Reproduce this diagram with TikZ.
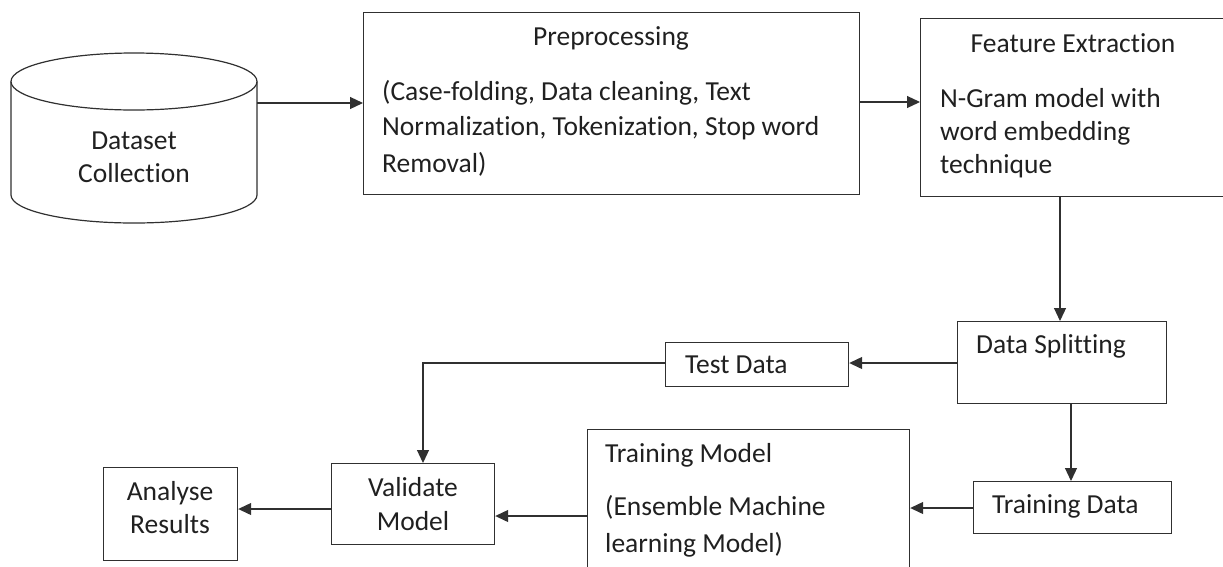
\documentclass[tikz,border=0pt]{standalone}
\usepackage{fontspec}
\setmainfont{Carlito}[Ligatures=NoCommon]
\usetikzlibrary{arrows.meta}
\definecolor{ink}{HTML}{303030}
\definecolor{txt}{HTML}{202020}
\tikzset{
  box/.style={draw=ink, line width=1.2pt, rectangle, inner sep=0pt, anchor=north west},
  arr/.style={draw=ink, line width=1.2pt, -{Triangle[length=13pt,width=12pt]}},
  lbl/.style={text=txt, inner sep=0pt, font=\fontsize{27.5}{33}\selectfont},
}
\begin{document}
\begin{tikzpicture}[x=1pt,y=-1pt]
\useasboundingbox (0,0) rectangle (1223,566);

% database cylinder
\node[inner sep=0pt, minimum width=246pt, minimum height=170pt] (db) at (134,138) {};
\draw[ink, line width=1.2pt] (134,81.5) ellipse [x radius=123pt, y radius=28.5pt];
\draw[ink, line width=1.2pt] (11,81.5) -- (11,195)
  arc[start angle=180, end angle=360, x radius=123pt, y radius=28pt] -- (257,81.5);
\node[lbl, anchor=base] at (134,149) {Dataset};
\node[lbl, anchor=base] at (134,182) {Collection};

% process boxes
\node[box, minimum width=496pt, minimum height=182pt] (pre) at (363,12) {};
\node[box, minimum width=330pt, minimum height=178pt] (fe) at (920,18) {};
\node[box, minimum width=209pt, minimum height=82pt] (ds) at (957,321) {};
\node[box, minimum width=183pt, minimum height=44pt] (test) at (665,342) {};
\node[box, minimum width=198pt, minimum height=52pt] (trd) at (973,481) {};
\node[box, minimum width=322pt, minimum height=170pt] (tm) at (587,429) {};
\node[box, minimum width=163pt, minimum height=81pt] (vm) at (331,463) {};
\node[box, minimum width=134pt, minimum height=93pt] (ar) at (103,467) {};

% box texts
\node[lbl, anchor=base] at (611,45) {Preprocessing};
\node[lbl, anchor=base west] at (382,100) {(Case-folding, Data cleaning, Text};
\node[lbl, anchor=base west] at (382,135) {Normalization, Tokenization, Stop word};
\node[lbl, anchor=base west] at (382,172) {Removal)};

\node[lbl, anchor=base] at (1073,52) {Feature Extraction};
\node[lbl, anchor=base west] at (940,107) {N-Gram model with};
\node[lbl, anchor=base west] at (940,140) {word embedding};
\node[lbl, anchor=base west] at (940,173) {technique};

\node[lbl, anchor=base west] at (976,353) {Data Splitting};
\node[lbl, anchor=base west] at (685,373) {Test Data};
\node[lbl, anchor=base west] at (992,513) {Training Data};

\node[lbl, anchor=base west] at (605,462) {Training Model};
\node[lbl, anchor=base west] at (605,515) {(Ensemble Machine};
\node[lbl, anchor=base west] at (605,552) {learning Model)};

\node[lbl, anchor=base] at (413,496) {Validate};
\node[lbl, anchor=base] at (413,530) {Model};
\node[lbl, anchor=base] at (170,500) {Analyse};
\node[lbl, anchor=base] at (170,533) {Results};

% routing guides
\coordinate (yA) at (0,103);
\coordinate (yB) at (0,102);
\coordinate (xC) at (1060,0);
\coordinate (yD) at (0,363);
\coordinate (xE) at (423,0);
\coordinate (xF) at (1071,0);
\coordinate (yG) at (0,508);
\coordinate (yH) at (0,516);
\coordinate (yI) at (0,509);

% connectors
\draw[arr] (db.east |- yA) -- (pre.west |- yA);
\draw[arr] (pre.east |- yB) -- (fe.west |- yB);
\draw[arr] (xC |- fe.south) -- (xC |- ds.north);
\draw[arr] (ds.west |- yD) -- (test.east |- yD);
\draw[arr] (test.west |- yD) -- (xE |- yD) -- (xE |- vm.north);
\draw[arr] (xF |- ds.south) -- (xF |- trd.north);
\draw[arr] (trd.west |- yG) -- (tm.east |- yG);
\draw[arr] (tm.west |- yH) -- (vm.east |- yH);
\draw[arr] (vm.west |- yI) -- (ar.east |- yI);
\end{tikzpicture}
\end{document}
